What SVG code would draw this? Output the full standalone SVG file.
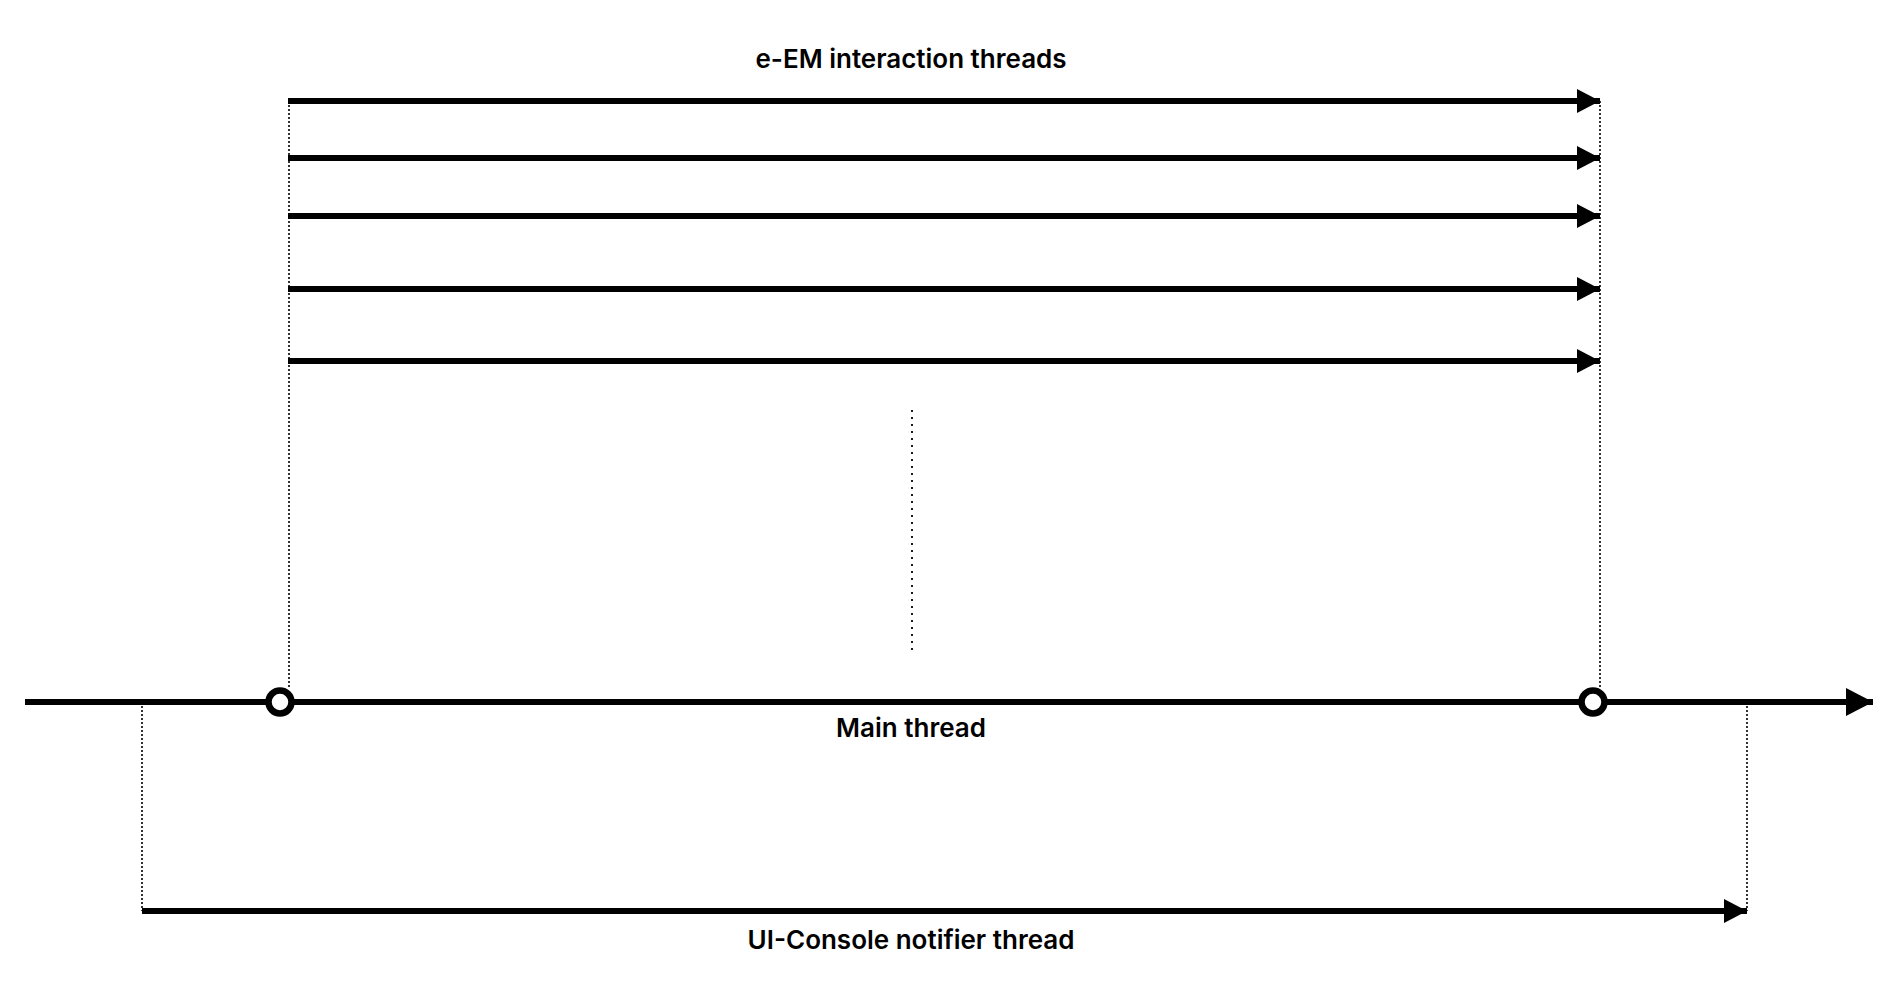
<svg xmlns="http://www.w3.org/2000/svg" width="1904" height="997" viewBox="0 0 1904 997">
<style>
.lbl{font-family:Inter,"Liberation Sans",sans-serif;font-size:26px;font-weight:600;fill:#000;text-anchor:middle}
.thr{stroke:#000;stroke-width:6;fill:none}
.dot{stroke:#000;stroke-width:1.6;stroke-dasharray:2 2;fill:none}
.dot2{stroke:#000;stroke-width:1.8;stroke-dasharray:2 5;fill:none}
</style>
<defs>
<marker id="ah" markerUnits="userSpaceOnUse" markerWidth="24" markerHeight="26" refX="23" refY="12" orient="auto">
<path d="M0,0 L23,12 L0,24 Z" fill="#000"/>
</marker>
<marker id="ahm" markerUnits="userSpaceOnUse" markerWidth="30" markerHeight="30" refX="27" refY="14" orient="auto">
<path d="M0,0 L27,14 L0,28 Z" fill="#000"/>
</marker>
</defs>
<rect width="1904" height="997" fill="#fff"/>
<g id="connectors">
<line class="dot" x1="289" y1="101" x2="289" y2="688"/>
<line class="dot" x1="1600" y1="101" x2="1600" y2="688"/>
<line class="dot2" x1="912" y1="410" x2="912" y2="653"/>
<line class="dot" x1="142" y1="702" x2="142" y2="911"/>
<line class="dot" x1="1747" y1="702" x2="1747" y2="911"/>
</g>
<g id="em-threads">
<line class="thr" x1="288" y1="101" x2="1600" y2="101" marker-end="url(#ah)"/>
<line class="thr" x1="288" y1="158" x2="1600" y2="158" marker-end="url(#ah)"/>
<line class="thr" x1="288" y1="216" x2="1600" y2="216" marker-end="url(#ah)"/>
<line class="thr" x1="288" y1="289" x2="1600" y2="289" marker-end="url(#ah)"/>
<line class="thr" x1="288" y1="361" x2="1600" y2="361" marker-end="url(#ah)"/>
<text class="lbl" x="911" y="68">e-EM interaction threads</text>
</g>
<g id="main-thread">
<line class="thr" x1="25" y1="702" x2="1873" y2="702" stroke-width="7" marker-end="url(#ahm)"/>
<circle cx="280" cy="702" r="11.5" fill="#fff" stroke="#000" stroke-width="6.5"/>
<circle cx="1593" cy="702" r="11.5" fill="#fff" stroke="#000" stroke-width="6.5"/>
<text class="lbl" x="911" y="737">Main thread</text>
</g>
<g id="ui-thread">
<line class="thr" x1="142" y1="911" x2="1747" y2="911" marker-end="url(#ah)"/>
<text class="lbl" x="911" y="949">UI-Console notifier thread</text>
</g>
</svg>
